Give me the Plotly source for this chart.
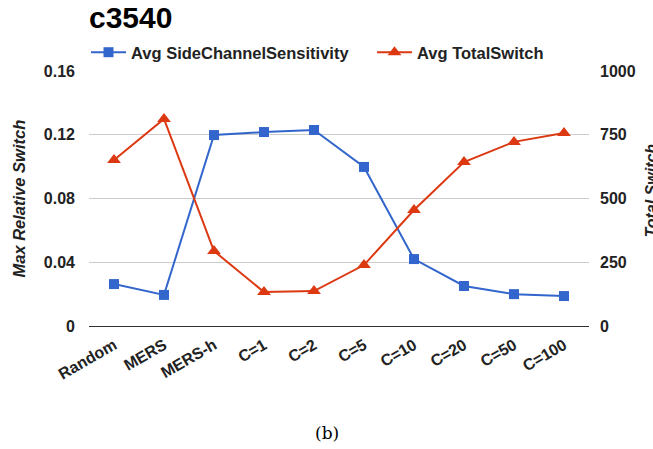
import plotly.graph_objects as go

categories = ["Random", "MERS", "MERS-h", "C=1", "C=2", "C=5", "C=10", "C=20", "C=50", "C=100"]
side_channel = [0.0263, 0.0195, 0.1198, 0.1217, 0.1230, 0.0998, 0.0420, 0.0251, 0.0200, 0.0188]
total_switch = [651, 812, 294, 133, 137, 239, 455, 643, 722, 757]
left_ticks = [0, 0.04, 0.08, 0.12, 0.16]
left_tick_labels = ["0", "0.04", "0.08", "0.12", "0.16"]
right_ticks = [0, 250, 500, 750, 1000]
right_tick_labels = ["0", "250", "500", "750", "1000"]

FONT = "Liberation Sans, Arial, sans-serif"
BLUE = "#3366cc"
RED = "#dc3912"
TXT = "#222222"

fig = go.Figure()
fig.add_trace(go.Scatter(
    x=categories, y=side_channel, name="Avg SideChannelSensitivity",
    mode="lines+markers", line=dict(color=BLUE, width=2),
    marker=dict(symbol="square", size=10, color=BLUE), yaxis="y", legend="legend"))
fig.add_trace(go.Scatter(
    x=categories, y=total_switch, name="Avg TotalSwitch",
    mode="lines+markers", line=dict(color=RED, width=2),
    marker=dict(symbol="triangle-up", size=12, color=RED), yaxis="y2", legend="legend2"))

legend_common = dict(orientation="h", xanchor="left", y=1.004, yanchor="bottom",
                     font=dict(family=FONT, size=16.5, color=TXT, weight="bold"),
                     itemwidth=35, bgcolor="rgba(0,0,0,0)")

fig.update_layout(
    width=653, height=449,
    paper_bgcolor="white", plot_bgcolor="white",
    margin=dict(l=89, r=64, t=71, b=123),
    font=dict(family=FONT, size=13, color=TXT, weight="bold"),
    showlegend=True,
    legend=dict(x=-0.006, **legend_common),
    legend2=dict(x=0.566, **legend_common),
    xaxis=dict(type="category", range=[-0.5, 9.5], showgrid=False,
               tickangle=-30, tickfont=dict(family=FONT, size=16, color=TXT, weight="bold"),
               ticklabelstandoff=6, showline=False, zeroline=False),
    yaxis=dict(range=[0, 0.16], tickvals=left_ticks, ticktext=left_tick_labels,
               showgrid=True, gridcolor="#cccccc", gridwidth=1,
               zeroline=True, zerolinecolor="#333333", zerolinewidth=1,
               tickfont=dict(family=FONT, size=16, color=TXT, weight="bold"),
               ticklabelstandoff=13, showline=False),
    yaxis2=dict(range=[0, 1000], tickvals=right_ticks, ticktext=right_tick_labels,
                overlaying="y", side="right", showgrid=False, zeroline=False,
                tickfont=dict(family=FONT, size=16, color=TXT, weight="bold"),
                ticklabelstandoff=10, showline=False),
    annotations=[
        dict(text="c3540", xref="paper", yref="paper", x=0, xshift=-2, y=1, yshift=54,
             xanchor="left", yanchor="middle", showarrow=False,
             font=dict(family=FONT, size=30, color="#000", weight="bold")),
        dict(text="<i>Max Relative Switch</i>", xref="paper", yref="paper",
             x=0, xshift=-71, y=0.5, textangle=-90, xanchor="center", yanchor="middle",
             showarrow=False, font=dict(family=FONT, size=16.5, color=TXT, weight="bold")),
        dict(text="<i>Total Switch</i>", xref="paper", yref="paper",
             x=1, xshift=62, y=0.5, yshift=8, textangle=-90, xanchor="center", yanchor="middle",
             showarrow=False, font=dict(family=FONT, size=16, color=TXT, weight="bold")),
        dict(text="(b)", xref="paper", yref="paper", x=0.5, xshift=-12, y=0, yshift=-107,
             xanchor="center", yanchor="middle", showarrow=False,
             font=dict(family="DejaVu Serif, Liberation Serif, serif", size=17,
                       color="#000", weight="normal")),
    ],
)

fig.write_html("out.html", config={"displayModeBar": False},
               post_script="document.body.style.margin='0';document.body.style.overflow='hidden';")
